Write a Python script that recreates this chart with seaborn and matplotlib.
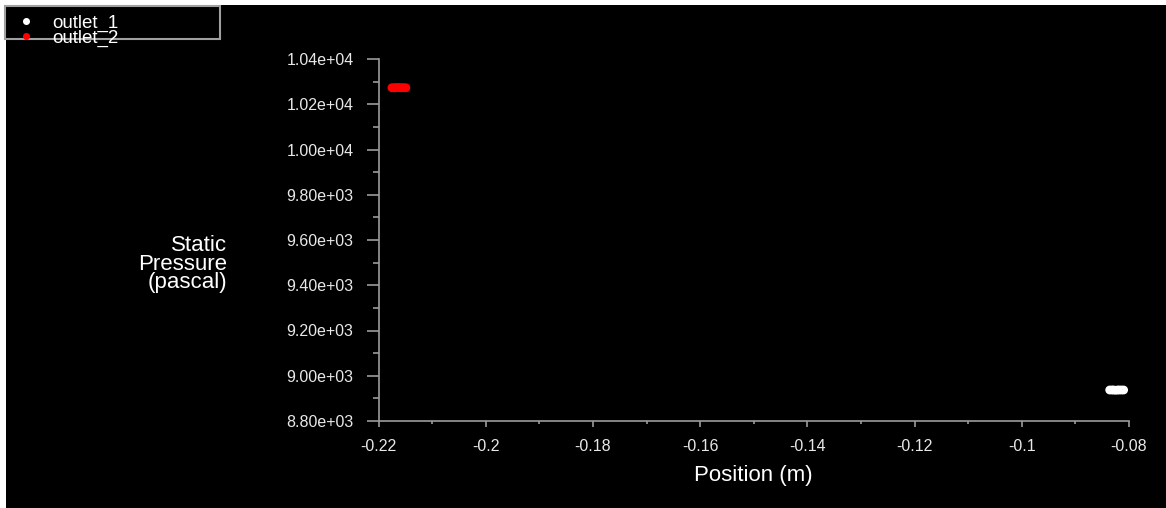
import matplotlib
matplotlib.use("Agg")
import matplotlib.pyplot as plt
from matplotlib.patches import Rectangle
from matplotlib.ticker import MultipleLocator, FormatStrFormatter, FuncFormatter
import seaborn as sns
import pandas as pd

# Static pressure sampled along the two outlet faces
outlet_1_pos = [-0.0836, -0.0832, -0.0829, -0.0825, -0.0821, -0.0818, -0.0814, -0.0810]
outlet_1_p = [8937, 8937, 8937, 8936, 8937, 8937, 8937, 8937]
outlet_2_pos = [-0.2175, -0.2171, -0.2168, -0.2164, -0.2160, -0.2157, -0.2153, -0.2149]
outlet_2_p = [10273, 10273, 10273, 10274, 10273, 10273, 10273, 10273]
series_names = ["outlet_1", "outlet_2"]
series_colors = ["#ffffff", "#ff0000"]

x_ticks = [-0.22, -0.2, -0.18, -0.16, -0.14, -0.12, -0.1, -0.08]
y_ticks = [8800, 9000, 9200, 9400, 9600, 9800, 10000, 10200, 10400]

df = pd.concat([
    pd.DataFrame({"Position": outlet_1_pos, "Pressure": outlet_1_p, "Surface": series_names[0]}),
    pd.DataFrame({"Position": outlet_2_pos, "Pressure": outlet_2_p, "Surface": series_names[1]}),
])

sns.set_theme(style="dark")
plt.rcParams["font.family"] = ["Liberation Sans", "DejaVu Sans"]

W, H = 1166, 508
fig = plt.figure(figsize=(W / 100, H / 100), dpi=100, facecolor="white")
# black plotting canvas with a thin white margin on the left and top
fig.patches.append(Rectangle((6 / W, -0.02), 1 - 6 / W + 0.02, 1 - 5 / H + 0.02,
                             transform=fig.transFigure,
                             facecolor="black", edgecolor="none", zorder=-10))
# frame of the legend panel in the top-left corner
fig.patches.append(Rectangle((5 / W, 1 - 39 / H), (220 - 5) / W, (39 - 6) / H,
                             transform=fig.transFigure, facecolor="black",
                             edgecolor="#a0a0a0", linewidth=1.5, zorder=-5))

ax = fig.add_axes([378.5 / W, 1 - 421 / H, (1129 - 378.5) / W, (421 - 59) / H])
ax.set_facecolor("none")

sns.scatterplot(data=df, x="Position", y="Pressure", hue="Surface",
                palette=dict(zip(series_names, series_colors)),
                s=40, linewidth=0, marker="o", ax=ax, zorder=3, clip_on=False)

ax.set_xlim(-0.22, -0.08)
ax.set_ylim(8800, 10400)
ax.set_xticks(x_ticks)
ax.set_yticks(y_ticks)
ax.xaxis.set_minor_locator(MultipleLocator(0.01))
ax.yaxis.set_minor_locator(MultipleLocator(100))
ax.xaxis.set_major_formatter(FuncFormatter(lambda v, p: f"{v:g}"))
ax.yaxis.set_major_formatter(FormatStrFormatter("%.2e"))
ax.grid(False)

spine_col = "#9c9c9c"
for side in ["top", "right"]:
    ax.spines[side].set_visible(False)
for side in ["left", "bottom"]:
    ax.spines[side].set_visible(True)
    ax.spines[side].set_color(spine_col)
    ax.spines[side].set_linewidth(1.2)

ax.tick_params(axis="y", which="major", direction="out", length=9, width=1.2,
               color=spine_col, labelcolor="#e8e8e8", labelsize=11.5, pad=9, left=True)
ax.tick_params(axis="y", which="minor", direction="out", length=4.5, width=1.2,
               color=spine_col, left=True)
ax.tick_params(axis="x", which="major", direction="out", length=4, width=1.2,
               color=spine_col, labelcolor="#e8e8e8", labelsize=11.5, pad=9, bottom=True)
ax.tick_params(axis="x", which="minor", direction="out", length=2, width=1.2,
               color=spine_col, bottom=True)

ax.set_xlabel("Position (m)", color="white", fontsize=16, labelpad=8)
ax.set_ylabel("")
fig.text(227 / W, 1 - 264 / H, "Static\nPressure\n(pascal)", color="white", fontsize=16,
         ha="right", va="center", multialignment="right", linespacing=0.85)

sns.move_legend(ax, "upper left", bbox_to_anchor=(5 / W, 1 - 3 / H),
                bbox_transform=fig.transFigure, frameon=False, title=None,
                fontsize=13.5, labelspacing=-0.1, handletextpad=0.9,
                handlelength=1.0, borderpad=0.1, markerscale=0.8)
leg = ax.get_legend()
for t in leg.get_texts():
    t.set_color("white")

fig.savefig("out.png", dpi=100, facecolor=fig.get_facecolor())
